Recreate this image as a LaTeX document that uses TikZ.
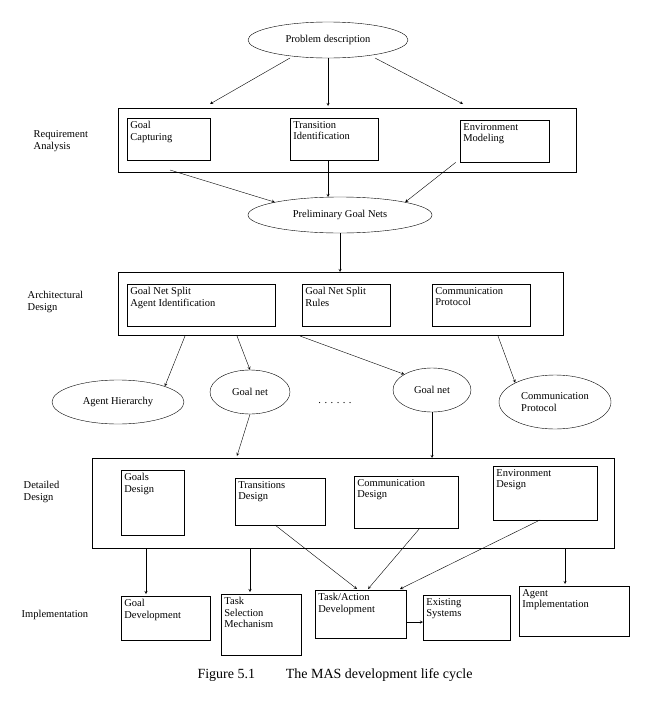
\documentclass[tikz,border=0pt]{standalone}
\usepackage{fontspec}
\setmainfont{Liberation Serif}
\usetikzlibrary{positioning,shapes.geometric,calc}
\begin{document}
\begin{tikzpicture}[x=1pt,y=-1pt, >=stealth, thick,
  every node/.style={font=\fontsize{10.5}{11.5}\selectfont},
  box/.style={draw, thin, anchor=north west, inner sep=0pt},
  txt/.style={anchor=north west, align=left, inner sep=3pt},
  oval/.style={draw, thin, ellipse, inner sep=0pt},
  side/.style={align=left, anchor=west},
  arr/.style={->, thin}]
\useasboundingbox (0,0) rectangle (664,707);

% top
\node[oval, minimum width=160, minimum height=36] (pd) at (328,40) {Problem description};

% requirement analysis
\node[side] (lra) at (30,141) {Requirement\\Analysis};
\node[box, minimum width=458, minimum height=64] (ra) at (118,108) {};
\node[box, minimum width=83, minimum height=42] (gc) at (127,118) {};
\node[txt] (tgc) at (gc.north west) {Goal\\Capturing};
\node[box, minimum width=88, minimum height=42] (ti) at (290,118) {};
\node[txt] (tti) at (ti.north west) {Transition\\Identification};
\node[box, minimum width=89, minimum height=42] (em) at (460,120) {};
\node[txt] (tem) at (em.north west) {Environment\\Modeling};

\coordinate (a1) at (210,104);
\coordinate (a2) at (328,106);
\coordinate (a3) at (463,104);
\draw[arr] (pd) ++(-38,18) -- (a1);
\draw[arr] (pd.south) -- (a2);
\draw[arr] (pd) ++(47,18) -- (a3);

\node[oval, minimum width=184, minimum height=36] (pg) at (340,215) {Preliminary Goal Nets};
\draw[arr] (170,170) -- (pg.north west);
\draw[arr] (328,160) -- (328,197);
\draw[arr] (em.south) ++(-49,0) -- (pg.north east);

% architectural design
\node[side] (lad) at (24,302) {Architectural\\Design};
\node[box, minimum width=445, minimum height=63] (ad) at (118,272) {};
\draw[arr] (pg.south) -- (pg.south |- ad.north);
\node[box, minimum width=148, minimum height=42] (gs) at (127,284) {};
\node[txt] (tgs) at (gs.north west) {Goal Net Split\\Agent Identification};
\node[box, minimum width=88, minimum height=42] (gr) at (302,284) {};
\node[txt] (tgr) at (gr.north west) {Goal Net Split\\Rules};
\node[box, minimum width=98, minimum height=42] (cp) at (432,284) {};
\node[txt] (tcp) at (cp.north west) {Communication\\Protocol};

\node[oval, minimum width=132, minimum height=44] (ah) at (118,402) {Agent Hierarchy};
\node[oval, minimum width=80, minimum height=44] (gn1) at (250,392) {Goal net};
\node (dots) at (335,403) {. . . . . .};
\node[oval, minimum width=78, minimum height=44] (gn2) at (432,390) {Goal net};
\node[oval, minimum width=112, minimum height=54, align=left] (cp2) at (555,402) {Communication\\Protocol};

\draw[arr] (185,336) -- (ah.north east);
\draw[arr] (237,336) -- (gn1.north);
\draw[arr] (300,336) -- (gn2.north west);
\draw[arr] (498,336) -- (cp2.north west);

% detailed design
\node[side] (ldd) at (20,492) {Detailed\\Design};
\node[box, minimum width=522, minimum height=90] (dd) at (92,458) {};
\draw[arr] (gn1.south) -- (237,456);
\draw[arr] (gn2.south) -- (gn2.south |- dd.north);
\node[box, minimum width=63, minimum height=65] (gd) at (121,470) {};
\node[txt] (tgd) at (gd.north west) {Goals\\Design};
\node[box, minimum width=90, minimum height=47] (td) at (235,478) {};
\node[txt] (ttd) at (td.north west) {Transitions\\Design};
\node[box, minimum width=104, minimum height=52] (cd) at (354,476) {};
\node[txt] (tcd) at (cd.north west) {Communication\\Design};
\node[box, minimum width=104, minimum height=54] (ed) at (493,466) {};
\node[txt] (ted) at (ed.north west) {Environment\\Design};

% implementation
\node[side] (lim) at (18,615) {Implementation};
\node[box, minimum width=89, minimum height=44] (gdv) at (121,596) {};
\node[txt] (tgdv) at (gdv.north west) {Goal\\Development};
\node[box, minimum width=80, minimum height=61] (ts) at (221,594) {};
\node[txt] (tts) at (ts.north west) {Task\\Selection\\Mechanism};
\node[box, minimum width=91, minimum height=48] (ta) at (315,590) {};
\node[txt] (tta) at (ta.north west) {Task/Action\\Development};
\node[box, minimum width=87, minimum height=45] (es) at (423,595) {};
\node[txt] (tes) at (es.north west) {Existing\\Systems};
\node[box, minimum width=110, minimum height=50] (ai) at (519,586) {};
\node[txt] (tai) at (ai.north west) {Agent\\Implementation};

\draw[arr] (146,548) -- (146,594);
\draw[arr] (250,548) -- (250,592);
\draw[arr] (275,525) -- (357,589);
\draw[arr] (420,528) -- (368,589);
\draw[arr] (540,520) -- (400,589);
\draw[arr] (565,548) -- (565,584);
\coordinate (ta1) at (406,622);
\coordinate (es1) at (423,622);
\draw[arr] (ta1) -- (es1);

\node (cap) at (335,675) {\fontsize{14}{16}\selectfont Figure 5.1\hspace{2.2em}The MAS development life cycle};
\end{tikzpicture}
\end{document}
